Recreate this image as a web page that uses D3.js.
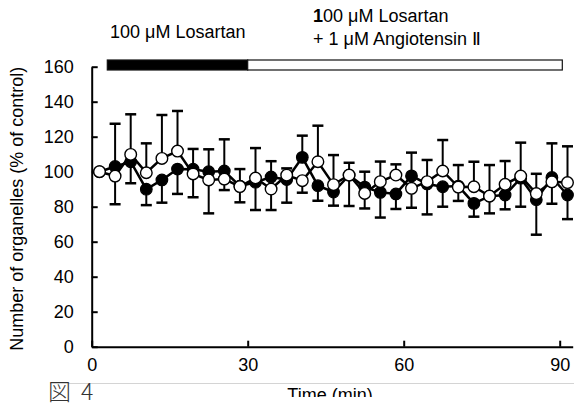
<!DOCTYPE html>
<html>
<head>
<meta charset="utf-8">
<script src="https://cdn.jsdelivr.net/npm/d3@7"></script>
<style>
  html, body { margin: 0; padding: 0; background: #fff; }
  svg { display: block; }
</style>
</head>
<body>
<svg id="chart" width="574" height="407"></svg>
<script>
// ---------- data ----------
const times = [1.5, 4.5, 7.5, 10.5, 13.5, 16.5, 19.5, 22.5, 25.5, 28.5,
               31.5, 34.5, 37.5, 40.5, 43.5, 46.5, 49.5, 52.5, 55.5, 58.5,
               61.5, 64.5, 67.5, 70.5, 73.5, 76.5, 79.5, 82.5, 85.5, 88.5, 91.5];
const blackValues = [100, 103, 105.7, 90, 95.3, 101.5, 101.4, 100, 100.4, 91.8,
                     94, 97, 95.5, 108.2, 92, 88.4, 98, 91.2, 88.2, 87.3,
                     97.6, 93, 91.4, 91.8, 81.9, 86, 86.7, 96.3, 84, 96.7, 86.7];
const whiteValues = [100, 97.5, 109.9, 99.4, 107.6, 111.8, 98.7, 95.3, 95.8, 91.5,
                     96.4, 90.1, 98, 94.9, 105.7, 92.6, 98.1, 87.6, 94.3, 98.1,
                     90.5, 94.3, 100.4, 91.2, 91.4, 86.1, 92.8, 97.5, 87.5, 94.2, 93.8];
// error bar drawn upward from the higher mean / downward from the lower mean
const errUpper = [0, 24.4, 22.9, 16.8, 24.8, 22.9, 11.6, 12.8, 18.1, 9.7,
                  17.1, 9, 3.9, 12.4, 20.6, 16.9, 7, 8.8, 11.5, 6.1,
                  13.3, 12.4, 17.7, 12, 14.3, 17.7, 13.3, 19.1, 11.3, 19.5, 20.7];
const errLower = [0, 16.1, 12.3, 9.1, 13, 14.2, 13.3, 19.1, 6.3, 9,
                  15.9, 12, 13.2, 6.9, 8.6, 7.8, 17.6, 8.6, 14.4, 8.6,
                  11.1, 17.4, 11.4, 7.9, 7.6, 9.8, 8.2, 16.3, 20, 12.5, 13.8];
const yTicks = [0, 20, 40, 60, 80, 100, 120, 140, 160];
const xTicks = [0, 30, 60, 90];
const periods = [
  {start: 3, end: 30, fill: "#000"},
  {start: 30, end: 90.5, fill: "#fff"}
];
const yTitle = "Number of organelles (% of control)";
const xTitle = "Time (min)";
const caption = "図 4";

// ---------- chart ----------
const svg = d3.select("#chart");
const font = "Liberation Sans, Arial, Helvetica, sans-serif";

const x = d3.scaleLinear().domain([0, 92.5]).range([91.7, 572.7]);
const y = d3.scaleLinear().domain([0, 160]).range([346.7, 66.7]);

// treatment bars
svg.append("g").selectAll("rect").data(periods).join("rect")
  .attr("x", d => x(d.start))
  .attr("y", 60)
  .attr("width", d => x(d.end) - x(d.start))
  .attr("height", 10)
  .attr("fill", d => d.fill)
  .attr("stroke", "#111")
  .attr("stroke-width", 1.2);

// top labels
svg.append("text")
  .attr("x", 110).attr("y", 38)
  .attr("font-family", font).attr("font-size", 18)
  .text("100 μM Losartan");
const t2 = svg.append("text")
  .attr("x", 313).attr("y", 22)
  .attr("font-family", font).attr("font-size", 18);
t2.append("tspan").attr("font-weight", "bold").text("1");
t2.append("tspan").text("00 μM Losartan");
svg.append("text")
  .attr("x", 313).attr("y", 45)
  .attr("font-family", font).attr("font-size", 18)
  .text("+ 1 μM Angiotensin Ⅱ");

// axes
const yAxis = svg.append("g")
  .attr("transform", `translate(${x(0)},0)`)
  .call(d3.axisLeft(y).tickValues(yTicks).tickSize(-6).tickSizeOuter(0).tickPadding(18));
const xAxis = svg.append("g")
  .attr("transform", `translate(0,${y(0)})`)
  .call(d3.axisBottom(x).tickValues(xTicks).tickSize(-6).tickSizeOuter(0).tickPadding(11.5));
[yAxis, xAxis].forEach(g => {
  g.select(".domain").attr("stroke", "#000").attr("stroke-width", 2);
  g.selectAll(".tick line").attr("stroke", "#000").attr("stroke-width", 2);
  g.selectAll(".tick text").attr("font-family", font).attr("font-size", 18).attr("fill", "#000");
});

// y title
svg.append("text")
  .attr("transform", `translate(23,${(y(0) + y(160)) / 2 + 2}) rotate(-90)`)
  .attr("text-anchor", "middle")
  .attr("font-family", font).attr("font-size", 18)
  .text(yTitle);

// error bars
const rows = times.map((t, i) => ({
  t, b: blackValues[i], w: whiteValues[i], up: errUpper[i], lo: errLower[i]
}));
const eb = svg.append("g").attr("stroke", "#000").attr("stroke-width", 2);
const cap = 5.5;
rows.filter(d => d.up > 0).forEach(d => {
  const hi = Math.max(d.b, d.w), lo = Math.min(d.b, d.w);
  const segs = [
    [hi, hi + d.up],
    [lo, lo - d.lo]
  ];
  segs.forEach(([a, b]) => {
    eb.append("line").attr("x1", x(d.t)).attr("x2", x(d.t)).attr("y1", y(a)).attr("y2", y(b));
    eb.append("line").attr("x1", x(d.t) - cap).attr("x2", x(d.t) + cap).attr("y1", y(b)).attr("y2", y(b))
      .attr("stroke-width", 2.5);
  });
});

// lines
const lineB = d3.line().x(d => x(d.t)).y(d => y(d.b));
const lineW = d3.line().x(d => x(d.t)).y(d => y(d.w));
svg.append("path").datum(rows).attr("d", lineB)
  .attr("fill", "none").attr("stroke", "#000").attr("stroke-width", 2.5);
svg.append("path").datum(rows).attr("d", lineW)
  .attr("fill", "none").attr("stroke", "#000").attr("stroke-width", 2.5);

// markers
svg.append("g").selectAll("circle").data(rows).join("circle")
  .attr("cx", d => x(d.t)).attr("cy", d => y(d.b)).attr("r", 5.8)
  .attr("fill", "#000").attr("stroke", "#000").attr("stroke-width", 1.2);
svg.append("g").selectAll("circle").data(rows).join("circle")
  .attr("cx", d => x(d.t)).attr("cy", d => y(d.w)).attr("r", 5.8)
  .attr("fill", "#fff").attr("stroke", "#000").attr("stroke-width", 1.4);

// page artefacts: separator line, clipped x title, caption
svg.append("defs").append("clipPath").attr("id", "clipTitle")
  .append("rect").attr("x", 0).attr("y", 0).attr("width", 574).attr("height", 397);
svg.append("line")
  .attr("x1", 50).attr("x2", 574).attr("y1", 383.5).attr("y2", 383.5)
  .attr("stroke", "#d4d4d4").attr("stroke-width", 1);
svg.append("text")
  .attr("clip-path", "url(#clipTitle)")
  .attr("x", 330).attr("y", 401)
  .attr("text-anchor", "middle")
  .attr("font-family", font).attr("font-size", 18)
  .text(xTitle);
svg.append("text")
  .attr("x", 48).attr("y", 400)
  .attr("font-family", "Noto Sans CJK JP, sans-serif").attr("font-size", 23)
  .attr("fill", "#333").attr("font-weight", 300)
  .attr("word-spacing", 5)
  .attr("xml:space", "preserve")
  .text(caption);
</script>
</body>
</html>
